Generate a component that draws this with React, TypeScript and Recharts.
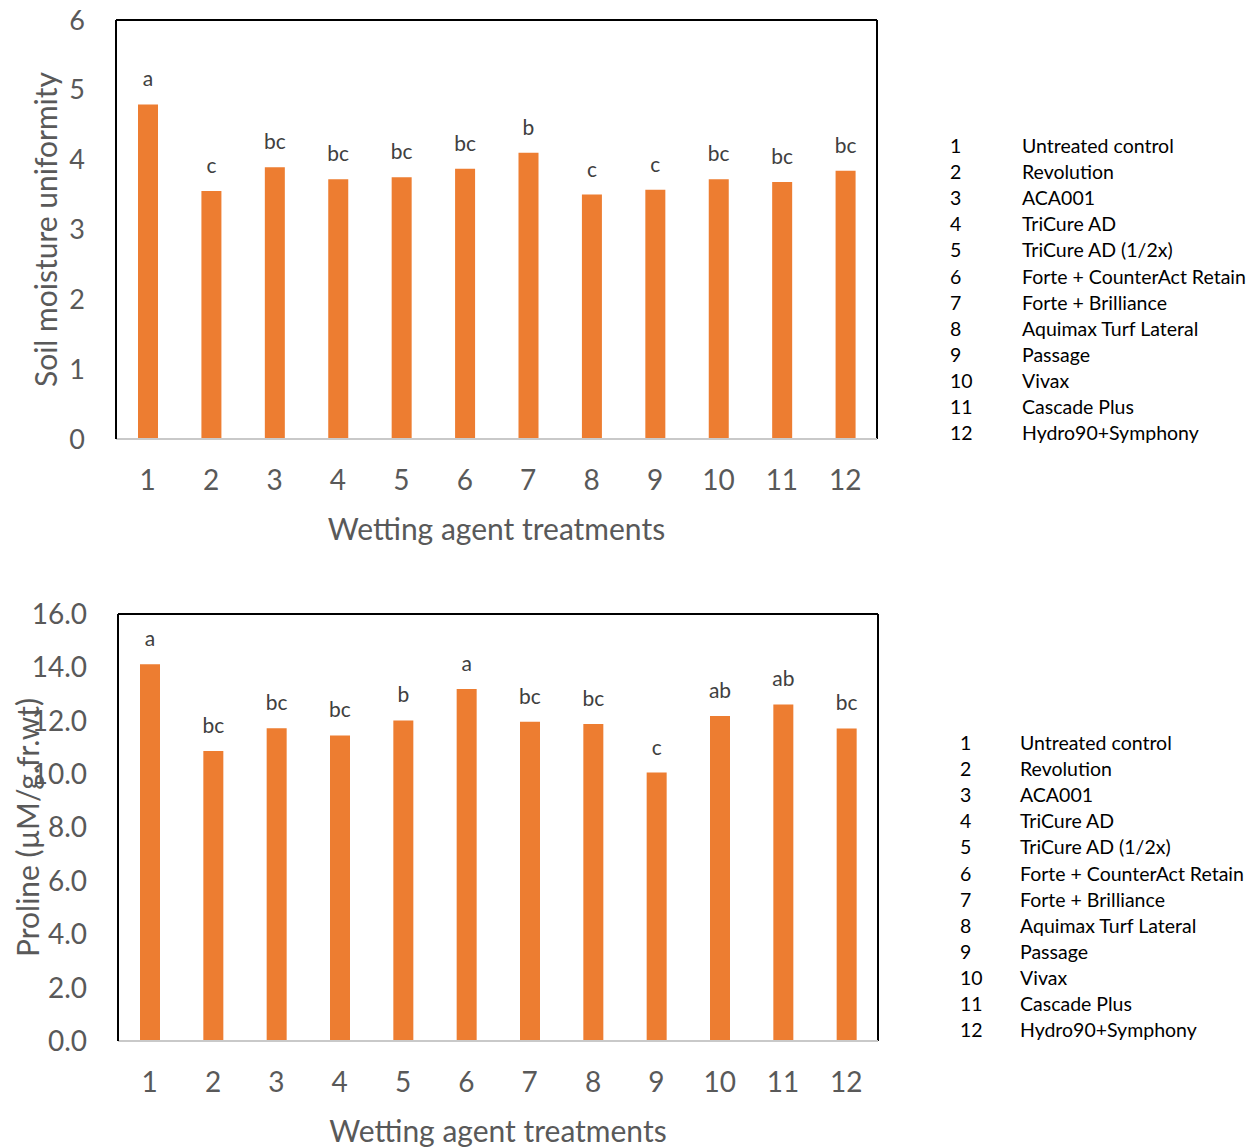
import { BarChart, Bar, XAxis, YAxis, LabelList, ReferenceLine } from 'recharts'

// treatment numbers on the x axis and their names in the side key
const treatments = ['1', '2', '3', '4', '5', '6', '7', '8', '9', '10', '11', '12']
const treatmentNames = [
  'Untreated control',
  'Revolution',
  'ACA001',
  'TriCure AD',
  'TriCure AD (1/2x)',
  'Forte + CounterAct Retain',
  'Forte + Brilliance',
  'Aquimax Turf Lateral',
  'Passage',
  'Vivax',
  'Cascade Plus',
  'Hydro90+Symphony',
]

// soil moisture uniformity means and significance letters
const moisture = [4.79, 3.55, 3.89, 3.72, 3.75, 3.87, 4.1, 3.5, 3.57, 3.72, 3.68, 3.84]
const moistureLetters = ['a', 'c', 'bc', 'bc', 'bc', 'bc', 'b', 'c', 'c', 'bc', 'bc', 'bc']
const moistureTicks = [0, 1, 2, 3, 4, 5, 6]

// proline content means and significance letters
const proline = [14.12, 10.87, 11.72, 11.45, 12.01, 13.19, 11.96, 11.88, 10.06, 12.18, 12.61, 11.71]
const prolineLetters = ['a', 'bc', 'bc', 'bc', 'b', 'a', 'bc', 'bc', 'c', 'ab', 'ab', 'bc']
const prolineTicks = [0, 2, 4, 6, 8, 10, 12, 14, 16]

const BAR = '#ED7D31'
const AXIS_TEXT = '#595959'
const FONT = 'Lato, "Noto Sans", sans-serif'

type PanelProps = {
  top: number
  height: number
  plotHeight: number
  values: number[]
  letters: string[]
  ticks: number[]
  tickFormat: (v: number) => string
  yTitle: string
  yTitleX: number
  yTickSize: number
  marginLeft: number
  marginRight: number
}

function Panel(props: PanelProps) {
  const { top, height, plotHeight, values, letters, ticks, tickFormat, yTitle, yTitleX, yTickSize, marginLeft, marginRight } = props
  const data = treatments.map((id, i) => ({ id, value: values[i], letter: letters[i] }))
  const max = ticks[ticks.length - 1]
  const last = treatments[treatments.length - 1]

  return (
    <div style={{ position: 'absolute', left: 0, top }}>
      <BarChart
        width={900}
        height={height}
        data={data}
        margin={{ top: 20, right: marginRight, left: 0, bottom: 0 }}
      >
        <XAxis
          dataKey="id"
          height={height - 20 - plotHeight}
          tickLine={false}
          tickSize={0}
          tickMargin={31}
          axisLine={{ stroke: '#C9C9C9', strokeWidth: 2 }}
          tick={{ fill: AXIS_TEXT, fontSize: 28 }}
          label={{
            position: 'insideTop',
            content: ({ viewBox }: any) => (
              <text
                x={viewBox.x + viewBox.width / 2}
                y={viewBox.y + 89}
                textAnchor="middle"
                dominantBaseline="central"
                fill={AXIS_TEXT}
                fontSize={30}
              >
                Wetting agent treatments
              </text>
            ),
          }}
        />
        <YAxis
          width={marginLeft}
          domain={[0, max]}
          ticks={ticks}
          interval={0}
          tickFormatter={tickFormat}
          tickLine={false}
          tickSize={0}
          tickMargin={31}
          axisLine={{ stroke: '#000', strokeWidth: 2 }}
          tick={{ fill: AXIS_TEXT, fontSize: yTickSize }}
          label={{
            position: 'center',
            content: ({ viewBox }: any) => {
              const cy = viewBox.y + viewBox.height / 2
              return (
                <text
                  transform={`translate(${yTitleX},${cy}) rotate(-90)`}
                  textAnchor="middle"
                  dominantBaseline="central"
                  fill={AXIS_TEXT}
                  fontSize={30}
                >
                  {yTitle}
                </text>
              )
            },
          }}
        />
        {/* plot area border: top edge and right edge */}
        <ReferenceLine y={max} stroke="#000" strokeWidth={2} ifOverflow="visible" />
        <ReferenceLine x={last} position="end" stroke="#000" strokeWidth={2} ifOverflow="visible" />
        <Bar dataKey="value" fill={BAR} barSize={20} isAnimationActive={false}>
          <LabelList dataKey="letter" position="top" offset={18} fill="#404040" fontSize={21} />
        </Bar>
      </BarChart>
    </div>
  )
}

function Key({ top, numX, nameX }: { top: number; numX: number; nameX: number }) {
  return (
    <div style={{ position: 'absolute', left: 0, top, fontSize: 19.5, color: '#000' }}>
      {treatmentNames.map((name, i) => (
        <div key={name} style={{ position: 'absolute', top: i * 26.1, height: 26, lineHeight: '26px', whiteSpace: 'nowrap' }}>
          <span style={{ position: 'absolute', left: numX }}>{treatments[i]}</span>
          <span style={{ position: 'absolute', left: nameX }}>{name}</span>
        </div>
      ))}
    </div>
  )
}

export default function App() {
  return (
    <div style={{ position: 'absolute', left: 0, top: 0, width: 1259, height: 1147, background: '#fff', fontFamily: FONT }}>
      <Panel
        top={0}
        height={560}
        plotHeight={419}
        values={moisture}
        letters={moistureLetters}
        ticks={moistureTicks}
        tickFormat={(v) => String(v)}
        yTitle="Soil moisture uniformity"
        yTitleX={45}
        yTickSize={27}
        marginLeft={116}
        marginRight={23}
      />
      <Key top={133} numX={950} nameX={1022} />
      <Panel
        top={594}
        height={553}
        plotHeight={427}
        values={proline}
        letters={prolineLetters}
        ticks={prolineTicks}
        tickFormat={(v) => v.toFixed(1)}
        yTitle="Proline  (µM/g.fr.wt)"
        yTitleX={27}
        yTickSize={28}
        marginLeft={118}
        marginRight={22}
      />
      <Key top={730} numX={960} nameX={1020} />
    </div>
  )
}
